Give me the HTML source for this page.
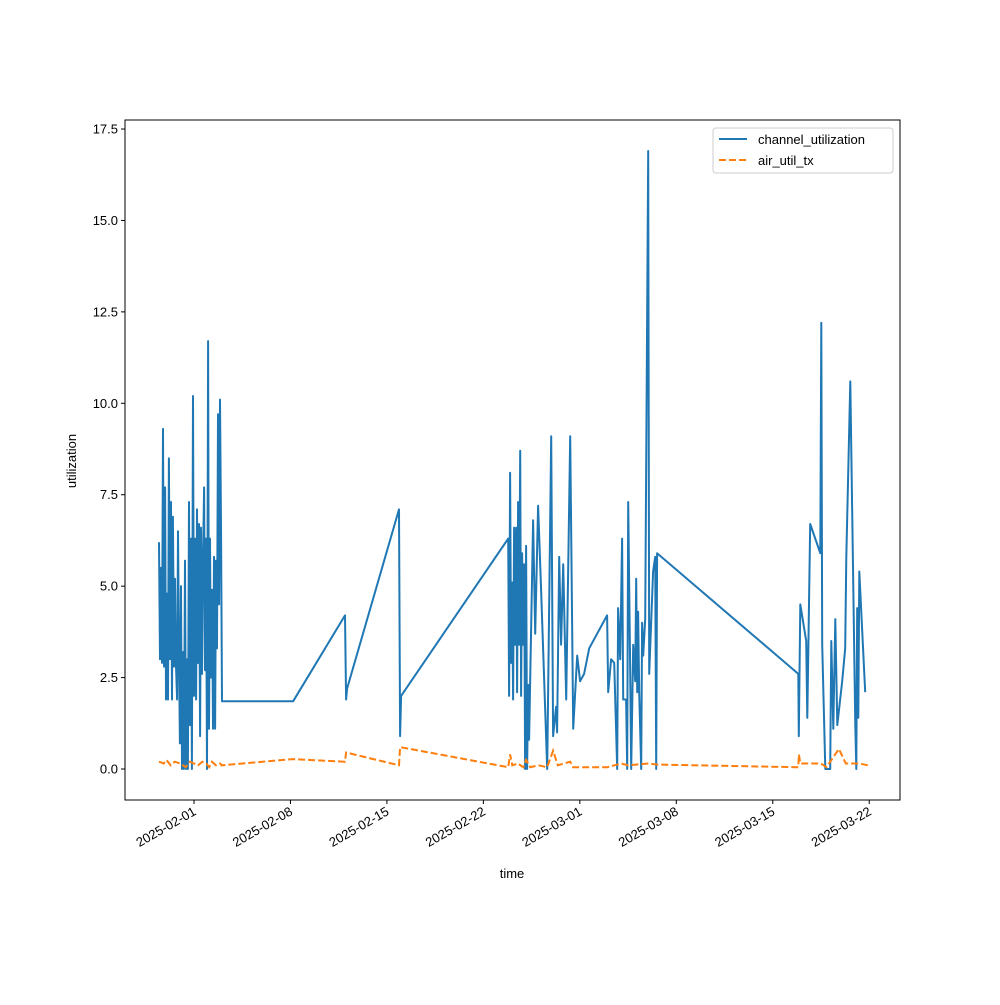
<!DOCTYPE html>
<html><head><meta charset="utf-8"><style>
html,body{margin:0;padding:0;background:#fff;}
svg text{font-family:"Liberation Sans","DejaVu Sans",sans-serif;font-size:13px;fill:#000;}
</style></head><body>
<svg id="chart" width="1000" height="1000" xmlns="http://www.w3.org/2000/svg">
<rect width="1000" height="1000" fill="#fff"/>
<g id="plot"></g>
<g id="axes"></g>
<g>
<rect x="713" y="128" width="180" height="45" rx="3" fill="#fff" fill-opacity="0.8" stroke="#ccc"/>
<line x1="719" y1="139" x2="747" y2="139" stroke="#1f77b4" stroke-width="2"/>
<text x="758" y="144">channel_utilization</text>
<line x1="719" y1="160" x2="747" y2="160" stroke="#ff7f0e" stroke-width="2" stroke-dasharray="7,3"/>
<text x="758" y="165">air_util_tx</text>
</g>
<text x="512" y="878" text-anchor="middle">time</text>
<text x="76" y="461" text-anchor="middle" transform="rotate(-90 76 461)">utilization</text>
</svg>
<script>
// days since 2025-02-01
const chDays = [-2.54,-2.47,-2.40,-2.32,-2.25,-2.18,-2.10,-2.03,-1.96,-1.89,-1.82,-1.74,-1.67,-1.60,-1.53,-1.45,-1.38,-1.31,-1.23,-1.16,-1.09,-1.02,-0.94,-0.87,-0.80,-0.73,-0.65,-0.58,-0.51,-0.44,-0.36,-0.29,-0.22,-0.15,-0.07,0.00,0.07,0.15,0.22,0.29,0.36,0.44,0.51,0.58,0.65,0.73,0.80,0.87,0.94,1.02,1.09,1.16,1.23,1.31,1.38,1.45,1.53,1.60,1.67,1.74,1.82,1.89,1.96,2.03,
7.19,10.96,11.04,11.11,14.88,14.96,15.03,22.80,
22.87,22.94,23.01,23.09,23.16,23.23,23.30,23.38,23.45,23.52,23.59,23.67,23.74,23.81,23.88,23.96,24.03,24.10,24.17,24.25,24.32,24.39,24.61,24.76,24.97,25.19,25.63,25.92,26.06,26.28,26.35,26.50,26.64,26.79,27.01,27.30,27.52,27.81,28.02,28.31,28.68,29.98,30.06,30.27,30.49,30.71,30.78,30.93,31.07,31.15,31.36,31.44,31.51,31.65,31.73,31.87,32.02,32.09,32.16,32.23,32.31,32.45,32.52,32.60,32.74,32.96,33.03,33.32,33.47,33.54,33.61,
43.85,43.89,44.00,44.43,44.51,44.72,45.45,45.52,45.59,45.81,46.17,46.25,46.39,46.54,46.68,47.04,47.26,47.34,47.63,47.99,48.06,48.13,48.21,48.28,48.71];
const chValues = [6.2,3.0,5.5,2.9,9.3,2.8,7.7,1.9,4.8,1.9,8.5,3.0,7.3,1.9,6.9,2.8,5.2,2.9,1.9,6.5,3.2,0.7,5.0,0,3.2,0,5.7,0,3.0,0,7.3,1.2,6.3,0,10.2,2.0,6.3,1.9,7.1,2.9,6.7,0.9,6.6,2.6,5.7,7.7,2.7,6.3,0,11.7,1.1,6.3,2.5,4.9,1.1,5.8,1.1,5.7,3.3,9.7,4.5,10.1,6.7,1.85,
1.85,4.2,1.9,2.2,7.1,0.9,2.0,6.3,
2.0,8.1,2.9,5.1,1.9,6.6,3.4,6.6,2.1,7.3,3.4,8.7,2.0,5.9,3.4,5.6,0,6.1,0,2.3,0.8,2.3,6.8,3.7,7.2,4.9,0,9.1,0.9,1.7,1.0,5.8,3.4,5.6,1.9,9.1,1.1,3.1,2.4,2.6,3.3,4.2,2.1,3.0,2.9,0,4.4,3.0,6.3,1.9,1.9,0,7.3,2.9,0,3.4,2.4,5.2,2.1,4.3,2.1,0,4.0,3.1,4.1,16.9,2.6,5.4,5.8,0,5.9,
2.6,0.9,4.5,3.5,1.4,6.7,5.9,12.2,3.4,0,0,3.5,1.1,4.1,1.2,2.4,3.3,5.8,10.6,1.2,0,4.4,1.4,5.4,2.1];
const airDays = [-2.54,-2.2,-2.0,-1.7,-1.4,-1.0,-0.6,-0.3,0,0.3,0.6,0.9,1.1,1.3,1.6,1.9,2.0,7.19,10.96,11.04,14.88,14.96,22.8,22.94,23.1,23.5,23.9,24.1,24.4,25,25.63,26.06,26.4,27.3,27.5,30,31,31.5,33,33.6,43.85,43.9,44.0,45.5,45.9,46.8,47.3,48.3,48.9];
const airValues = [0.2,0.15,0.25,0.1,0.2,0.15,0.05,0.2,0.15,0.1,0.2,0.15,0.05,0.2,0.1,0.15,0.1,0.27,0.2,0.45,0.1,0.6,0.05,0.4,0.1,0.15,0.05,0.25,0.05,0.1,0.05,0.5,0.1,0.2,0.05,0.05,0.15,0.1,0.15,0.12,0.05,0.4,0.15,0.15,0.05,0.55,0.15,0.15,0.1];
const xTickDays = [0,7,14,21,28,35,42,49];
const xTickLabels = ["2025-02-01","2025-02-08","2025-02-15","2025-02-22","2025-03-01","2025-03-08","2025-03-15","2025-03-22"];
const yTickValues = [0,2.5,5,7.5,10,12.5,15,17.5];
const yTickLabels = ["0.0","2.5","5.0","7.5","10.0","12.5","15.0","17.5"];

const NS="http://www.w3.org/2000/svg";
const L=125,R=900,T=120,B=800;
function xs(d){return 194+(d)*13.78;}
function ys(v){return 769-v*36.57;}
const plot=document.getElementById('plot'), axes=document.getElementById('axes');
function mk(tag,attrs,parent){const e=document.createElementNS(NS,tag);for(const k in attrs)e.setAttribute(k,attrs[k]);parent.appendChild(e);return e;}

const p1=mk('polyline',{points:chDays.map((d,i)=>xs(d).toFixed(1)+','+ys(chValues[i]).toFixed(1)).join(' '),fill:'none',stroke:'#1f77b4','stroke-width':2,'stroke-linejoin':'round'},plot);


const p2=mk('polyline',{points:airDays.map((d,i)=>xs(d).toFixed(1)+','+ys(airValues[i]).toFixed(1)).join(' '),fill:'none',stroke:'#ff7f0e','stroke-width':2,'stroke-dasharray':'7,3'},plot);



const frame=mk('rect',{x:L,y:T,width:R-L,height:B-T,fill:'none',stroke:'#000','stroke-width':1},axes);



yTickValues.forEach((v,i)=>{
  const y=ys(v);
  const t=mk('line',{x1:L-4,x2:L,y1:y,y2:y,stroke:'#000'},axes);
  
  
  const tx=mk('text',{x:L-7,y:y+4.5,'text-anchor':'end'},axes);
  tx.textContent=yTickLabels[i];
  
  
});
xTickDays.forEach((d,i)=>{
  const x=xs(d);
  const t=mk('line',{x1:x,x2:x,y1:B,y2:B+4,stroke:'#000'},axes);
  
  
  const tx=mk('text',{x:x+3,y:B+14,'text-anchor':'end',transform:`rotate(-30 ${x+3} ${B+14})`},axes);
  tx.textContent=xTickLabels[i];
  
  
});
</script>
</body></html>
